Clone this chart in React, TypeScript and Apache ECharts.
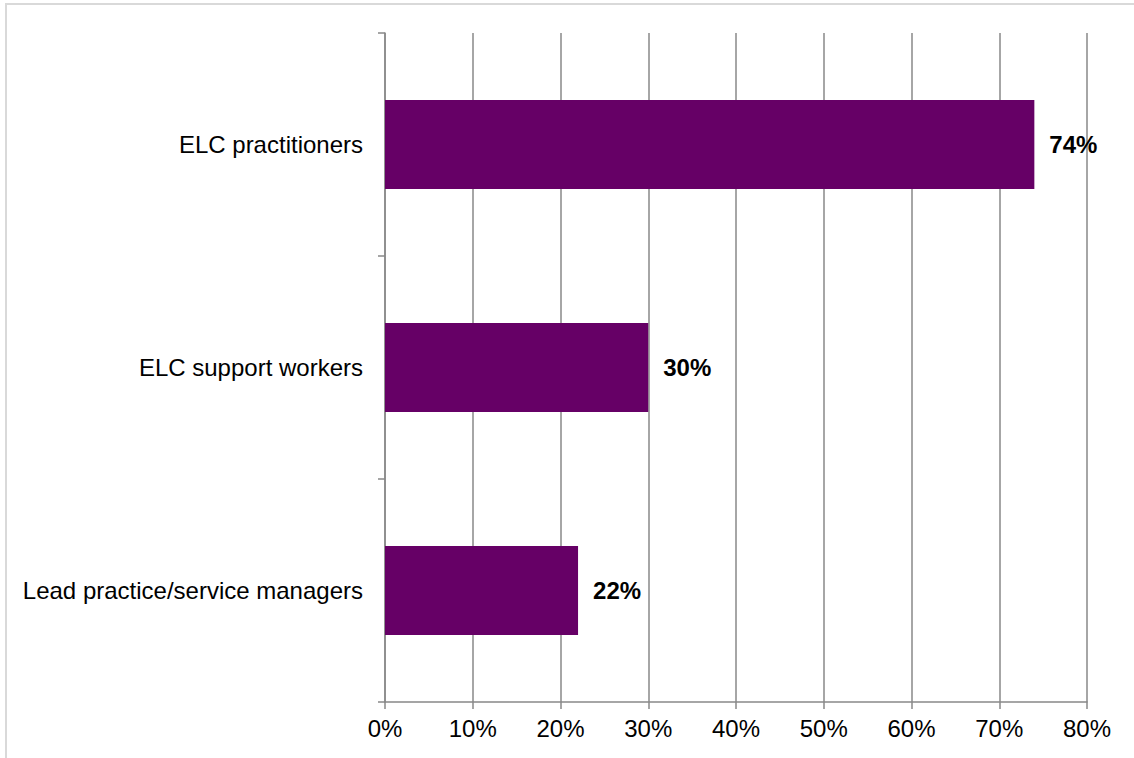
import React, { useEffect, useRef } from "react";
import * as echarts from "echarts";

const categories = ["ELC practitioners", "ELC support workers", "Lead practice/service managers"];
const values = [74, 30, 22];
const xTicks = [0, 10, 20, 30, 40, 50, 60, 70, 80];

export default function App() {
  const ref = useRef<HTMLDivElement>(null);
  useEffect(() => {
    const chart = echarts.init(ref.current!, null, { renderer: "svg" });
    chart.setOption({
      animation: false,
      graphic: [
        {
          type: "rect",
          shape: { x: 6, y: 4, width: 1300, height: 900 },
          style: { fill: "none", stroke: "#d9d9d9", lineWidth: 2 },
          silent: true,
        },
      ],
      grid: { left: 385, right: 47, top: 33, bottom: 56 },
      xAxis: {
        type: "value",
        min: xTicks[0],
        max: xTicks[xTicks.length - 1],
        interval: 10,
        axisLine: { show: true, lineStyle: { color: "#888888", width: 1.5 } },
        axisTick: { show: true, length: 7, lineStyle: { color: "#888888", width: 1.5 } },
        splitLine: { show: true, lineStyle: { color: "#888888", width: 1.5 } },
        axisLabel: {
          color: "#000",
          fontSize: 24,
          fontFamily: "Liberation Sans, Arial, sans-serif",
          margin: 14,
          formatter: (v: number) => v + "%",
        },
      },
      yAxis: {
        type: "category",
        data: categories,
        inverse: true,
        axisLine: { show: true, lineStyle: { color: "#888888", width: 1.5 } },
        axisTick: { show: true, length: 7, alignWithLabel: false, lineStyle: { color: "#888888", width: 1.5 } },
        axisLabel: {
          color: "#000",
          fontSize: 24,
          fontFamily: "Liberation Sans, Arial, sans-serif",
          margin: 22,
        },
      },
      series: [
        {
          type: "bar",
          data: values,
          barCategoryGap: "60%",
          itemStyle: { color: "#660066" },
          label: {
            show: true,
            position: "right",
            distance: 15,
            color: "#000",
            fontSize: 24,
            fontWeight: "bold",
            fontFamily: "Liberation Sans, Arial, sans-serif",
            formatter: (p: any) => p.value + "%",
          },
        },
      ],
    });
    return () => chart.dispose();
  }, []);
  return (
    <div
      ref={ref}
      style={{ position: "absolute", left: 0, top: 0, width: 1134, height: 758, background: "#fff" }}
    />
  );
}
